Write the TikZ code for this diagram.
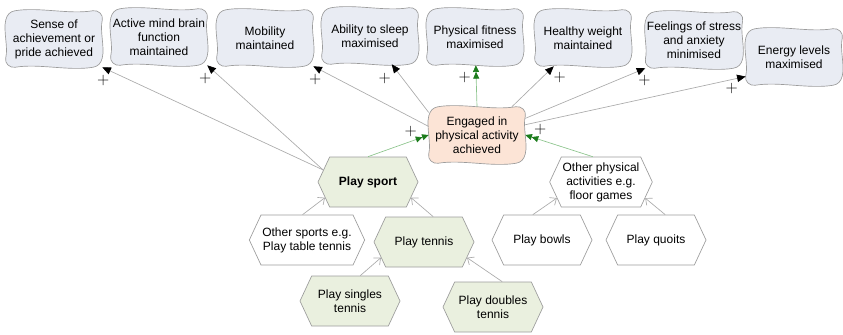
\documentclass[tikz,border=0pt]{standalone}
\usepackage{fontspec}
\setmainfont{Liberation Sans}
\usetikzlibrary{shapes.symbols, arrows.meta, positioning, backgrounds}

\definecolor{framegray}{HTML}{9C9C9C}
\definecolor{cloudfill}{HTML}{E9ECF3}
\definecolor{peachfill}{HTML}{FCE4D6}
\definecolor{hexgreen}{HTML}{EAF0DF}
\definecolor{linkgray}{HTML}{ABABAB}
\definecolor{linkgreen}{HTML}{8CC48C}
\definecolor{tipgreen}{HTML}{1C7C1C}

% wavy outline drawn round a named node
\newcommand{\wavyframe}[2]{%
  \path[draw=framegray, line width=0.5pt, fill=#2]
    ([xshift=7pt]#1.north west)
    .. controls +(18pt,3pt) and +(-18pt,-3pt) .. ([xshift=-7pt]#1.north east)
    .. controls +(4pt,0.7pt) and +(1pt,4pt) .. ([yshift=-7pt]#1.north east)
    .. controls +(-2pt,-8pt) and +(2pt,8pt) .. ([yshift=7pt]#1.south east)
    .. controls +(-1pt,-4pt) and +(4pt,0.7pt) .. ([xshift=-7pt]#1.south east)
    .. controls +(-18pt,-3pt) and +(18pt,3pt) .. ([xshift=7pt]#1.south west)
    .. controls +(-4pt,-0.7pt) and +(-1pt,-4pt) .. ([yshift=7pt]#1.south west)
    .. controls +(2pt,8pt) and +(-2pt,-8pt) .. ([yshift=-7pt]#1.north west)
    .. controls +(1pt,4pt) and +(-4pt,-0.7pt) .. ([xshift=7pt]#1.north west)
    -- cycle;}

\begin{document}
\begin{tikzpicture}[
    x=0.75pt, y=-0.75pt,
    every node/.style={align=center, font=\fontsize{9}{10.5}\selectfont},
    goal/.style={minimum width=72pt, minimum height=42pt, inner sep=1pt},
    hexbox/.style={signal, signal to=west and east, signal pointer angle=130, draw=framegray, line width=0.5pt, minimum width=75pt, minimum height=37.5pt, inner sep=1pt},
    sportbox/.style={hexbox, fill=hexgreen},
    otherbox/.style={hexbox, fill=white},
    link/.style={draw=linkgray, line width=0.5pt, -{Triangle[length=6.5pt,width=5.5pt,color=black]}},
    greenlink/.style={draw=linkgreen, line width=0.5pt, -{Triangle[length=5pt,width=4.5pt,color=tipgreen]Triangle[length=5pt,width=4.5pt,color=tipgreen]}},
    sublink/.style={draw=linkgray, line width=0.5pt, -{Straight Barb[length=4pt,width=7pt]}},
    plus/.style={font=\fontsize{12}{12}\selectfont, inner sep=0pt}
]
\useasboundingbox (0,0) rectangle (843,335);

% Outcomes
\node (sense) [goal] at (54,39) {Sense of\\achievement or\\pride achieved};
\node (active) [goal] at (159,37) {Active mind brain\\function\\maintained};
\node (mobility) [goal] at (265,38) {Mobility\\maintained};
\node (sleep) [goal] at (370,36) {Ability to sleep\\maximised};
\node (fitness) [goal] at (475,37) {Physical fitness\\maximised};
\node (healthy) [goal] at (583,38) {Healthy weight\\maintained};
\node (feelings) [goal] at (694,40) {Feelings of stress\\and anxiety\\minimised};
\node (energy) [goal] at (794,57) {Energy levels\\maximised};

% Central goal
\node (engaged) [goal] at (477,135) {Engaged in\\physical activity\\achieved};

% Activities
\node (playsport) [sportbox, font=\fontsize{9}{10.5}\selectfont\bfseries] at (368,182) {Play sport};
\node (otherphys) [otherbox] at (601,182) {Other physical\\activities e.g.\\floor games};
\node (othersports) [otherbox] at (307,240) {Other sports e.g.\\Play table tennis};
\node (tennis) [sportbox] at (424,242) {Play tennis};
\node (bowls) [otherbox] at (542,240) {Play bowls};
\node (quoits) [otherbox] at (656,240) {Play quoits};
\node (singles) [sportbox] at (350,301) {Play singles\\tennis};
\node (doubles) [sportbox] at (493,307) {Play doubles\\tennis};

\begin{scope}[on background layer]
  \foreach \n in {sense,active,mobility,sleep,fitness,healthy,feelings,energy}
    \wavyframe{\n}{cloudfill};
  \wavyframe{engaged}{peachfill}
\end{scope}

% Links to outcomes
\draw [link] (playsport.165) -- node[plus, at end, shift={(1,13)}] {$+$} (sense.south east);
\draw [link] (playsport.165) -- node[plus, at end, shift={(-2,13)}] {$+$} (active.south east);
\draw [link] (engaged.170) -- node[plus, at end, shift={(2,13)}] {$+$} (mobility.south east);
\draw [link] (engaged.155) -- node[plus, at end, shift={(-7,14)}] {$+$} (sleep);
\draw [greenlink] (engaged.north) -- node[plus, at end, shift={(-11,12)}] {$+$} (fitness);
\draw [link] (engaged.39) -- node[plus, at end, shift={(6,11)}] {$+$} (healthy);
\draw [link] (engaged.19) -- node[plus, at end, shift={(-1,12)}] {$+$} (feelings.south west);
\draw [link] (engaged.12) -- node[plus, at end, shift={(-14,12)}] {$+$} (energy.202);

% Links to central goal
\draw [greenlink] (playsport.north) -- node[plus, at end, shift={(-18,-3)}] {$+$} (engaged.west);
\draw [greenlink] (otherphys.108) -- node[plus, at end, shift={(15,-6)}] {$+$} (engaged.east);

% Sub-activities
\draw [sublink] (othersports.100) -- (playsport.200);
\draw [sublink] (tennis.70) -- (playsport.-20);
\draw [sublink] (singles.68) -- (tennis.200);
\draw [sublink] (doubles.70) -- (tennis.-20);
\draw [sublink] (bowls.110) -- (otherphys.200);
\draw [sublink] (quoits.70) -- (otherphys.-20);

\end{tikzpicture}
\end{document}
